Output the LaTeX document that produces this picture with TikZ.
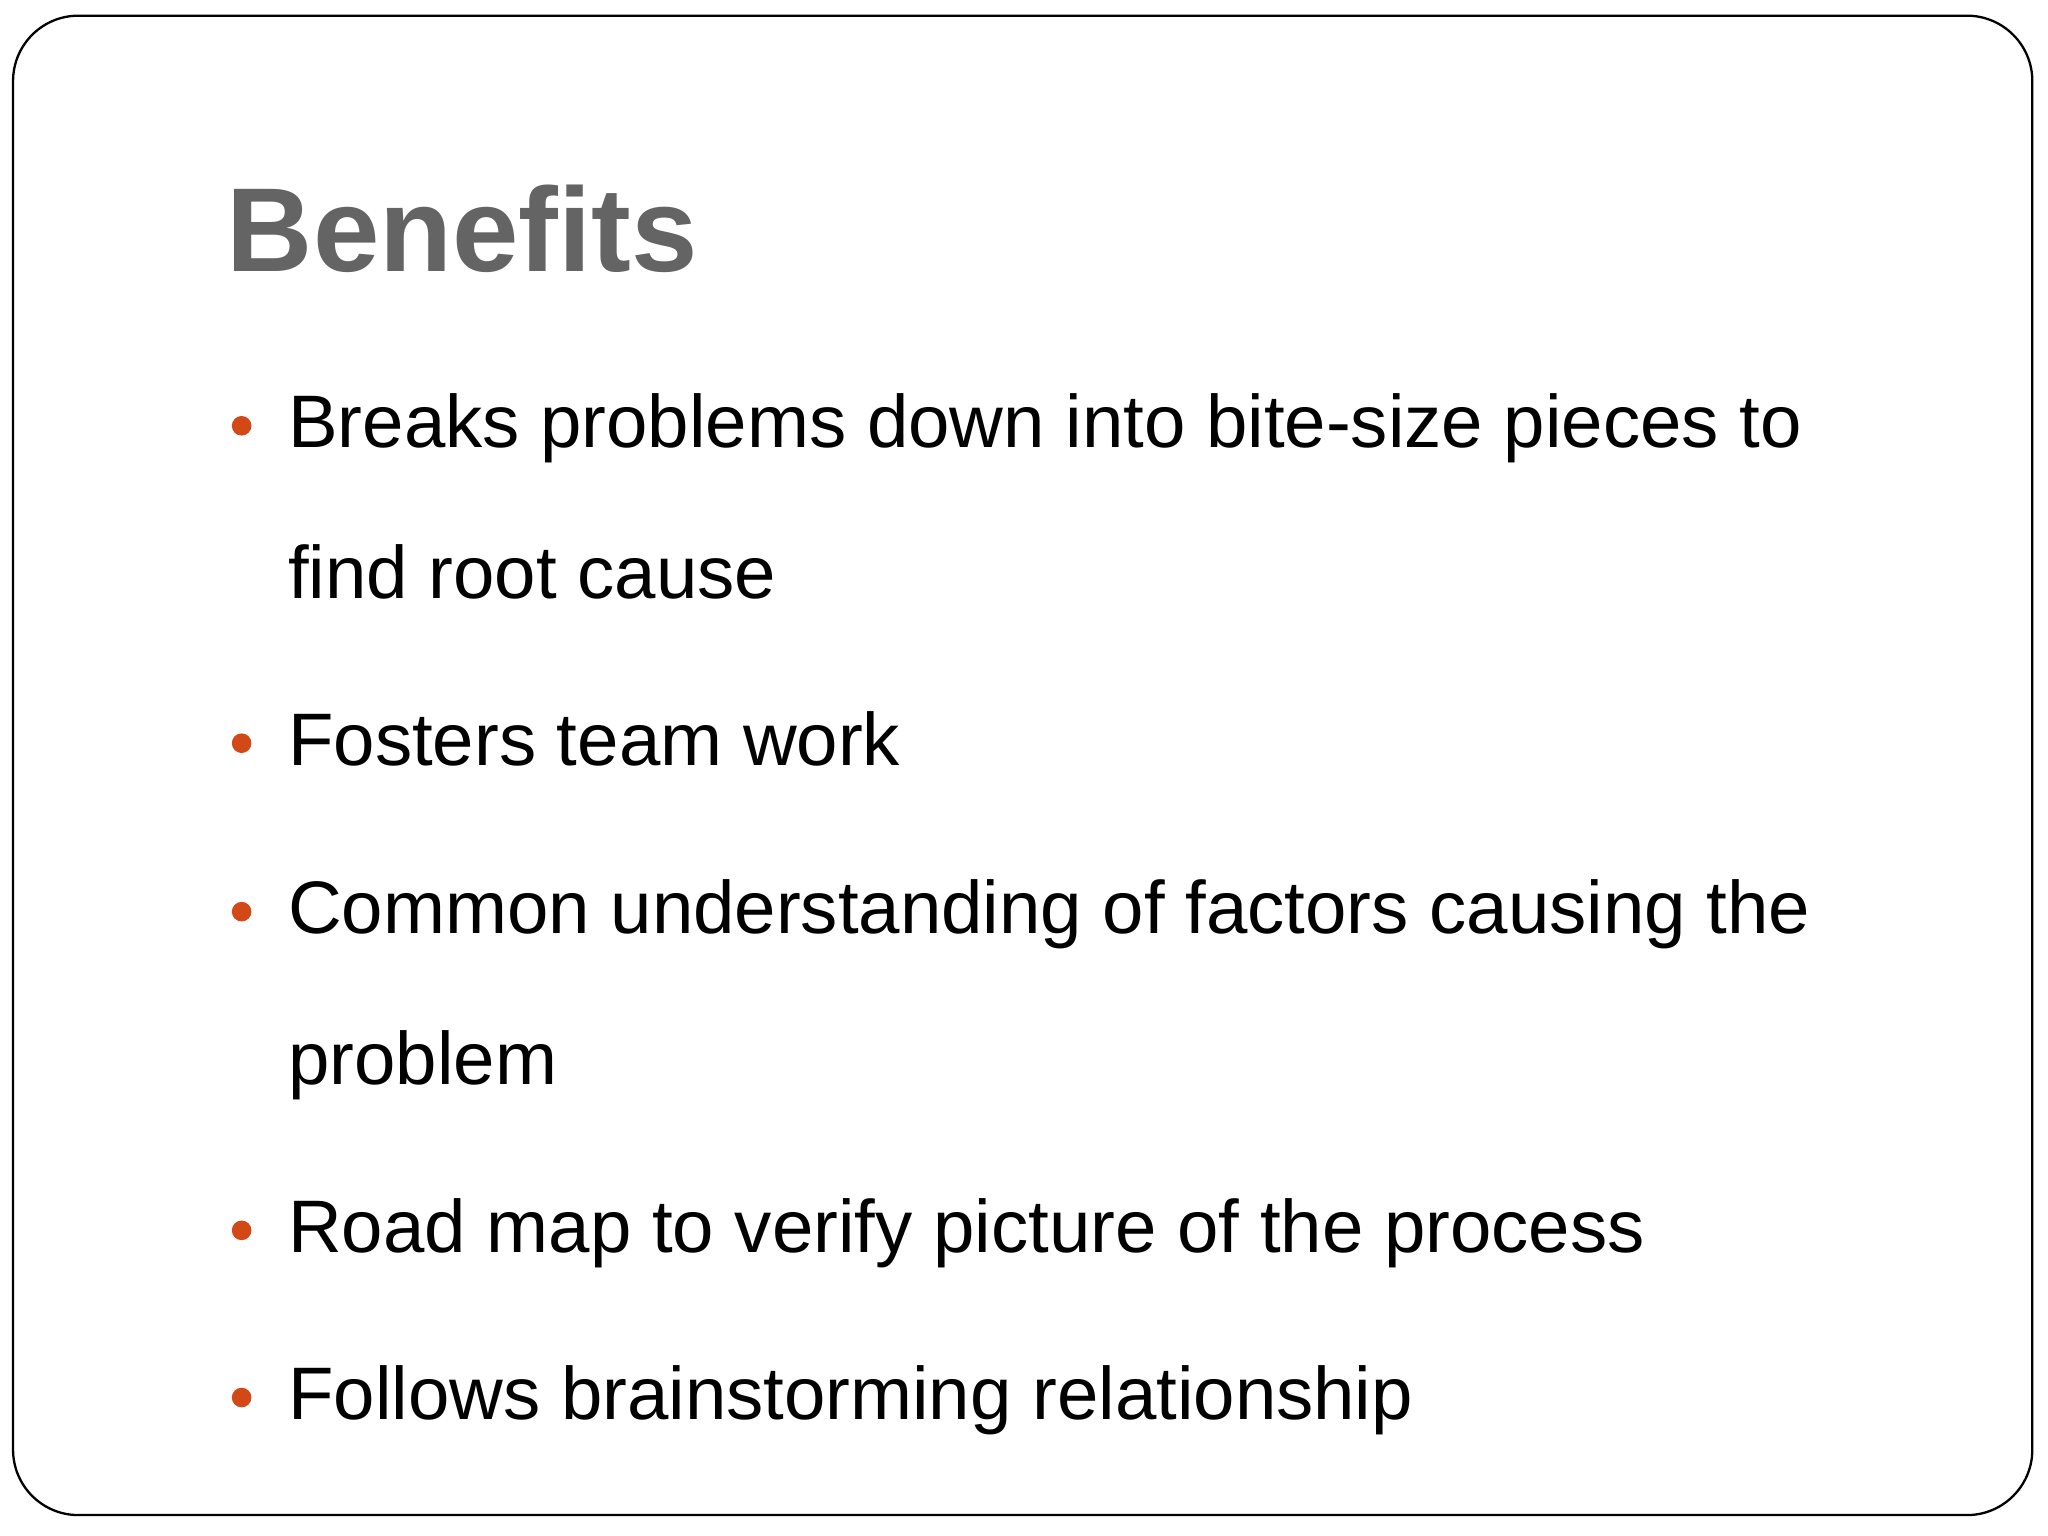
\documentclass[tikz,border=0pt]{standalone}
\usepackage{fontspec}
\setmainfont{Liberation Sans}
\definecolor{bul}{HTML}{D34817}
\definecolor{ttl}{HTML}{646464}
\tikzset{item/.style={anchor=base west,inner sep=0pt,font=\fontsize{16.2}{18}\selectfont},
 dot/.style={circle,fill=bul,inner sep=0pt,minimum size=0.15cm}}
\begin{document}
\begin{tikzpicture}[x=0.01cm,y=-0.01cm]
\useasboundingbox (0,0) rectangle (1568,1176);
\draw[rounded corners=0.5cm,line width=0.5pt,fill=white] (10,12) rectangle (1556,1160);
\node[anchor=base west,inner sep=0pt,text=ttl,font=\fontsize{26}{30}\bfseries] (t) at (173,208) {Benefits};
\node[item] (a1) at (220,343) {Breaks problems down into bite-size pieces to};
\node[item] (a2) at (220,458) {find root cause};
\node[item] (b) at (220,586) {Fosters team work};
\node[item] (c1) at (220,715) {Common understanding of factors causing the};
\node[item] (c2) at (220,830) {problem};
\node[item] (d) at (220,959) {Road map to verify picture of the process};
\node[item] (e) at (220,1087) {Follows brainstorming relationship};
\foreach \n/\y in {d1/326,d2/569,d3/698,d4/942,d5/1070}
  \node[dot] (\n) at (185,\y) {};
\end{tikzpicture}
\end{document}
